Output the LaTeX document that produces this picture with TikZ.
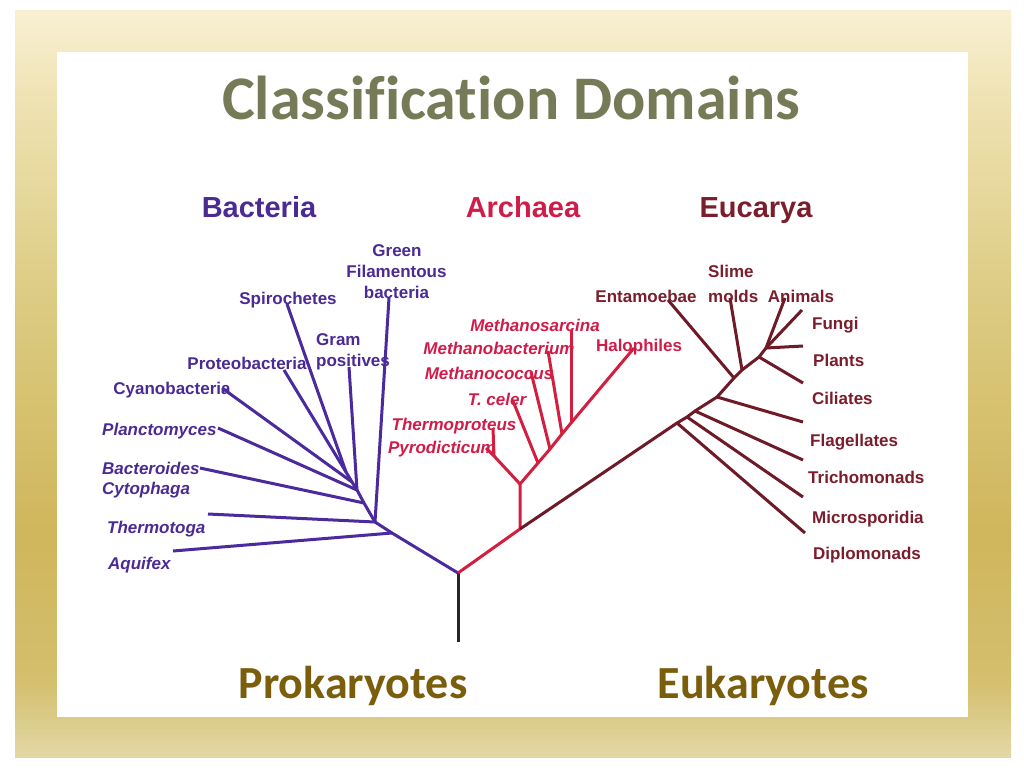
\documentclass[tikz,border=0pt]{standalone}
\usepackage{fontspec}
\setmainfont{Liberation Sans}
\newfontfamily\carl[Ligatures=NoCommon]{Carlito}
\definecolor{bact}{HTML}{4B2A93}
\definecolor{bactline}{HTML}{4A2A9C}
\definecolor{arch}{HTML}{D01C48}
\definecolor{archline}{HTML}{D21F40}
\definecolor{euk}{HTML}{7A1D2C}
\definecolor{eukline}{HTML}{6E1A27}
\definecolor{titlecol}{HTML}{767A56}
\definecolor{botcol}{HTML}{7A5E0C}
\definecolor{gold0}{HTML}{E3D8A6}
\definecolor{gold1}{HTML}{D4BF6E}
\definecolor{gold2}{HTML}{D0B65C}
\definecolor{gold3}{HTML}{DBCA80}
\definecolor{gold4}{HTML}{EDE0AE}
\definecolor{gold5}{HTML}{F8F0D2}
\pgfdeclareverticalshading{goldframe}{100bp}{color(0bp)=(gold0); color(25bp)=(gold0); color(30bp)=(gold1); color(40bp)=(gold2); color(55bp)=(gold3); color(68bp)=(gold4); color(75bp)=(gold5); color(100bp)=(gold5)}
\begin{document}
\begin{tikzpicture}[x=1pt,y=-1pt,
  lbl/.style={inner sep=0pt,font=\bfseries\fontsize{17}{19}\selectfont},
  lbli/.style={inner sep=0pt,font=\bfseries\itshape\fontsize{17}{19}\selectfont},
  hdr/.style={inner sep=0pt,font=\bfseries\fontsize{29}{32}\selectfont},
  bigl/.style={inner sep=0pt,font=\carl\bfseries\fontsize{46}{50}\selectfont,text=botcol},
  bl/.style={lbl,text=bact}, bli/.style={lbli,text=bact},
  al/.style={lbl,text=arch}, ali/.style={lbli,text=arch},
  el/.style={lbl,text=euk},
  bline/.style={draw=bactline,line width=3pt},
  aline/.style={draw=archline,line width=3pt},
  eline/.style={draw=eukline,line width=3pt},
  tline/.style={draw=black!85,line width=3pt},
  line join=round]
\useasboundingbox (0,0) rectangle (1024,768);
\fill[white] (0,0) rectangle (1024,768);
\shade[shading=goldframe] (15,11) rectangle (1011,757);
\fill[white] (57,52) rectangle (968,717);

% title and bottom labels
\node[inner sep=0pt,anchor=base,text=titlecol,font=\carl\bfseries\fontsize{62}{66}\selectfont] (title) at (511,119) {Classification Domains};
\node[bigl,anchor=base] (prok) at (353,698) {Prokaryotes};
\node[bigl,anchor=base] (euka) at (763,698) {Eukaryotes};

% domain headers
\node[hdr,anchor=base,text=bact] (hB) at (259,217) {Bacteria};
\node[hdr,anchor=base,text=arch] (hA) at (523,217) {Archaea};
\node[hdr,anchor=base,text=euk] (hE) at (756,217) {Eucarya};

% bacteria labels
\node[bl,anchor=base] (lGreen1) at (397,256) {Green};
\node[bl,anchor=base] (lGreen2) at (396.5,277) {Filamentous};
\node[bl,anchor=base] (lGreen3) at (396.5,298) {bacteria};
\node[bl,anchor=base] (lSpiro) at (288,304) {Spirochetes};
\node[bl,anchor=base west] (lGram1) at (316,345) {Gram};
\node[bl,anchor=base west] (lGram2) at (316,366) {positives};
\node[bl,anchor=base] (lProteo) at (247,369) {Proteobacteria};
\node[bl,anchor=base] (lCyano) at (172,394) {Cyanobacteria};
\node[bli,anchor=base west] (lPlanc) at (102,435) {Planctomyces};
\node[bli,anchor=base west] (lBact1) at (102,474) {Bacteroides};
\node[bli,anchor=base west] (lBact2) at (102,494) {Cytophaga};
\node[bli,anchor=base west] (lThermot) at (107,533) {Thermotoga};
\node[bli,anchor=base west] (lAquifex) at (108,569) {Aquifex};

% archaea labels
\node[ali,anchor=base] (lMsarc) at (535,331) {Methanosarcina};
\node[ali,anchor=base] (lMbact) at (499,354) {Methanobacterium};
\node[ali,anchor=base] (lMcocc) at (489,379) {Methanococcus};
\node[ali,anchor=base] (lTceler) at (497,405) {T. celer};
\node[ali,anchor=base] (lThermop) at (454,430) {Thermoproteus};
\node[ali,anchor=base] (lPyro) at (442,453) {Pyrodicticum};
\node[al,anchor=base] (lHalo) at (639,351) {Halophiles};

% eucarya labels
\node[el,anchor=base] (lEntam) at (646,302) {Entamoebae};
\node[el,anchor=base west] (lSlime1) at (708,277) {Slime};
\node[el,anchor=base west] (lSlime2) at (708,302) {molds};
\node[el,anchor=base] (lAnim) at (801,302) {Animals};
\node[el,anchor=base west] (lFungi) at (812,329) {Fungi};
\node[el,anchor=base west] (lPlants) at (813,366) {Plants};
\node[el,anchor=base west] (lCil) at (812,404) {Ciliates};
\node[el,anchor=base west] (lFlag) at (810,446) {Flagellates};
\node[el,anchor=base west] (lTrich) at (808,483) {Trichomonads};
\node[el,anchor=base west] (lMicro) at (812,523) {Microsporidia};
\node[el,anchor=base west] (lDiplo) at (813,559) {Diplomonads};

% tree coordinates
\coordinate (r) at (458,573);
\coordinate (rbot) at (458,642);
% bacteria
\coordinate (bA) at (392,533);
\coordinate (b1) at (375,522);
\coordinate (b2) at (364,503);
\coordinate (b3) at (357,490);
\coordinate (b4) at (352,482);
\coordinate (b5) at (346,472);
\coordinate (tAquifex) at (173,551);
\coordinate (tThermot) at (208,514);
\coordinate (tGreen) at (389,298);
\coordinate (tBact) at (200,468);
\coordinate (tPlanc) at (218,428);
\coordinate (tGram) at (349,367);
\coordinate (tCyano) at (222,388);
\coordinate (tSpiro) at (287,304);
\coordinate (tProteo) at (284,370);
% archaea
\coordinate (a0) at (520,529);
\coordinate (a1) at (520,484);
\coordinate (p) at (494,456);
\coordinate (a2) at (538,463);
\coordinate (a3) at (550,449);
\coordinate (a4) at (562,434);
\coordinate (a5) at (571,423);
\coordinate (tThermop) at (493,428);
\coordinate (tPyro) at (486,448);
\coordinate (tTceler) at (513,401);
\coordinate (tMcocc) at (531,372);
\coordinate (tMbact) at (548,351);
\coordinate (tMsarc) at (571,330);
\coordinate (tHalo) at (634,348);
% eucarya
\coordinate (e1) at (677,423);
\coordinate (e2) at (687,417);
\coordinate (e3) at (695,411);
\coordinate (e4) at (717,397);
\coordinate (e5) at (734,378);
\coordinate (e6) at (742,370);
\coordinate (e7) at (759,357);
\coordinate (e8) at (766,348);
\coordinate (tDiplo) at (805,533);
\coordinate (tMicro) at (803,497);
\coordinate (tTrich) at (803,460);
\coordinate (tFlag) at (803,422);
\coordinate (tEntam) at (668,300);
\coordinate (tSlime) at (730,298);
\coordinate (tCil) at (803,383);
\coordinate (tPlants) at (803,346);
\coordinate (tFungi) at (802,310);
\coordinate (tAnim) at (785,298);

% connectors
\draw[tline] (rbot) -- (r);
\draw[bline] (r) -- (bA) -- (b1) -- (b2) -- (b3) -- (b4) -- (b5);
\draw[bline] (bA) -- (tAquifex);
\draw[bline] (b1) -- (tThermot);
\draw[bline] (b1) -- (tGreen);
\draw[bline] (b2) -- (tBact);
\draw[bline] (b3) -- (tPlanc);
\draw[bline] (b3) -- (tGram);
\draw[bline] (b4) -- (tCyano);
\draw[bline] (b5) -- (tSpiro);
\draw[bline] (b5) -- (tProteo);

\draw[aline] (r) -- (a0) -- (a1) -- (a2) -- (a3) -- (a4) -- (a5) -- (tHalo);
\draw[aline] (a1) -- (p);
\draw[aline] (p) -- (tThermop);
\draw[aline] (p) -- (tPyro);
\draw[aline] (a2) -- (tTceler);
\draw[aline] (a3) -- (tMcocc);
\draw[aline] (a4) -- (tMbact);
\draw[aline] (a5) -- (tMsarc);

\draw[eline] (a0) -- (e1) -- (e2) -- (e3) -- (e4) -- (e5) -- (e6) -- (e7) -- (e8);
\draw[eline] (e1) -- (tDiplo);
\draw[eline] (e2) -- (tMicro);
\draw[eline] (e3) -- (tTrich);
\draw[eline] (e4) -- (tFlag);
\draw[eline] (e5) -- (tEntam);
\draw[eline] (e6) -- (tSlime);
\draw[eline] (e7) -- (tCil);
\draw[eline] (e8) -- (tPlants);
\draw[eline] (e8) -- (tFungi);
\draw[eline] (e8) -- (tAnim);
\end{tikzpicture}
\end{document}
